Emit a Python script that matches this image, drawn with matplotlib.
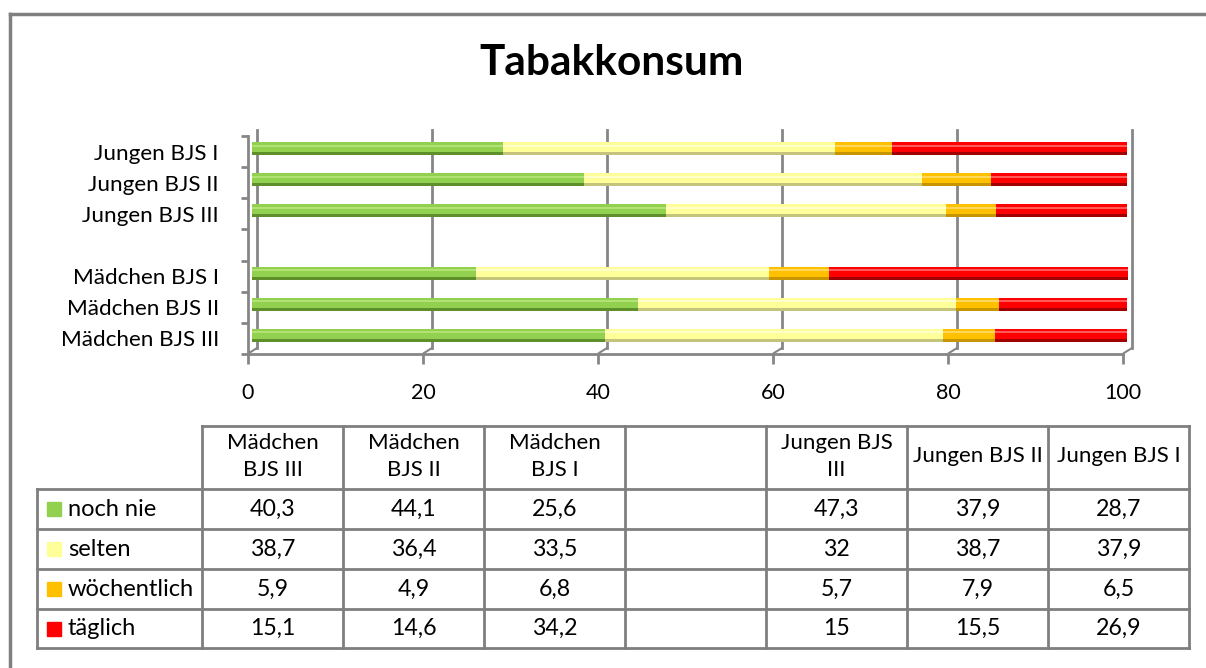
import numpy as np
import matplotlib
matplotlib.use("Agg")
import matplotlib.pyplot as plt
from matplotlib.lines import Line2D
from matplotlib.patches import Rectangle

plt.rcParams['font.family'] = ['Lato', 'DejaVu Sans']

# Daten (Reihenfolge wie in der Tabelle, unten -> oben im Diagramm)
categories = ["Mädchen BJS III", "Mädchen BJS II", "Mädchen BJS I", "",
              "Jungen BJS III", "Jungen BJS II", "Jungen BJS I"]
col_headers = ["Mädchen\nBJS III", "Mädchen\nBJS II", "Mädchen\nBJS I", "",
               "Jungen BJS\nIII", "Jungen BJS II", "Jungen BJS I"]
series_names = ["noch nie", "selten", "wöchentlich", "täglich"]
noch_nie = [40.3, 44.1, 25.6, np.nan, 47.3, 37.9, 28.7]
selten = [38.7, 36.4, 33.5, np.nan, 32, 38.7, 37.9]
woechentlich = [5.9, 4.9, 6.8, np.nan, 5.7, 7.9, 6.5]
taeglich = [15.1, 14.6, 34.2, np.nan, 15, 15.5, 26.9]
series = [noch_nie, selten, woechentlich, taeglich]

colors = ["#92D050", "#FFFF99", "#FFC000", "#FF0000"]
dark = ["#5f8f2b", "#c4c47c", "#c79500", "#a00000"]
light = ["#b3e274", "#ffffcc", "#ffd75a", "#ff5a5a"]
grey = "#868686"

W, H = 1206, 668
fig = plt.figure(figsize=(W / 100, H / 100), dpi=100)

# Diagrammbereich (vordere Ebene)
x0, x1, ytop, ybot = 248, 1123, 136, 354
ax = fig.add_axes([x0 / W, 1 - ybot / H, (x1 - x0) / W, (ybot - ytop) / H])
ax.set_xlim(0, 100)
ax.set_ylim(-0.5, 6.5)
px = 100 / (x1 - x0)
py = 7 / (ybot - ytop)

y = np.arange(len(categories))
left = np.zeros(len(categories))
bh = 13 * py
for vals, c, d, l in zip(series, colors, dark, light):
    v = np.nan_to_num(np.array(vals, dtype=float))
    yc = y + 3 * py
    ax.barh(yc, v, left=left + 4 * px, height=bh, color=d, lw=0, zorder=3, clip_on=False)
    ax.barh(yc + 1.5 * py, v, left=left + 4 * px, height=bh - 3 * py, color=c, lw=0,
            zorder=4, clip_on=False)
    ax.barh(yc + 3 * py, v, left=left + 4 * px, height=2 * py, color=l, lw=0,
            zorder=5, clip_on=False)
    left += v

# Rueckwand-Gitterlinien (3D Versatz)
ticks = np.arange(0, 101, 20)
for t in ticks:
    ax.plot([t + 9 * px, t + 9 * px], [-0.5 + 6 * py, 6.5 + 6 * py], color=grey, lw=2,
            clip_on=False, zorder=1)
    ax.plot([t + 1 * px, t + 9 * px], [-0.5 + 1 * py, -0.5 + 6 * py], color=grey, lw=1.5,
            clip_on=False, zorder=1)

for s in ["top", "right"]:
    ax.spines[s].set_visible(False)
for s in ["left", "bottom"]:
    ax.spines[s].set_color(grey)
    ax.spines[s].set_linewidth(2)
ax.set_xticks(ticks)
ax.set_xticklabels([str(t) for t in ticks], fontsize=15.5)
ax.tick_params(axis="x", length=7, width=2, color=grey, pad=14)
ax.set_yticks(y)
ax.set_yticklabels(categories, fontsize=16.2)
ax.tick_params(axis="y", which="major", length=0, pad=21)
ax.set_yticks(np.arange(-0.5, 7, 1), minor=True)
ax.tick_params(axis="y", which="minor", length=5, width=2, color=grey)

# Overlay fuer Titel, Rahmen und Datentabelle
ov = fig.add_axes([0, 0, 1, 1], zorder=-1)
ov.set_xlim(0, W)
ov.set_ylim(H, 0)
ov.axis("off")
ov.add_line(Line2D([10, 10], [14, H], color="#808080", lw=2.5))
ov.add_line(Line2D([10, W], [14, 14], color="#808080", lw=2.5))
fig.text(612 / W, 1 - 63 / H, "Tabakkonsum", fontsize=30.5, fontweight="bold",
         ha="center", va="center")

ov2 = fig.add_axes([0, 0, 1, 1])
ov2.set_xlim(0, W)
ov2.set_ylim(H, 0)
ov2.axis("off")
col_x = np.linspace(202, 1189, len(col_headers) + 1)
row_y = [489, 529, 569, 609, 648]
head_top = 426
tl = "#7f7f7f"
ov2.add_line(Line2D([col_x[0], col_x[-1]], [head_top, head_top], color=tl, lw=2))
for ry in row_y:
    ov2.add_line(Line2D([37, col_x[-1]], [ry, ry], color=tl, lw=2))
ov2.add_line(Line2D([37, 37], [row_y[0], row_y[-1]], color=tl, lw=2))
for cx in col_x:
    ov2.add_line(Line2D([cx, cx], [head_top, row_y[-1]], color=tl, lw=2))
for i, h in enumerate(col_headers):
    ov2.text((col_x[i] + col_x[i + 1]) / 2, (head_top + row_y[0]) / 2 - 1, h, fontsize=16,
             ha="center", va="center", linespacing=1.4)
for r, (name, vals, c) in enumerate(zip(series_names, series, colors)):
    yc = (row_y[r] + row_y[r + 1]) / 2
    ov2.add_patch(Rectangle((47, yc - 7), 14, 14, color=c))
    ov2.text(68, yc, name, fontsize=17, ha="left", va="center")
    for i, v in enumerate(vals):
        if np.isnan(v):
            continue
        ov2.text((col_x[i] + col_x[i + 1]) / 2, yc, f"{v:g}".replace(".", ","),
                 fontsize=16.7, ha="center", va="center")

fig.savefig("out.png", dpi=100)
